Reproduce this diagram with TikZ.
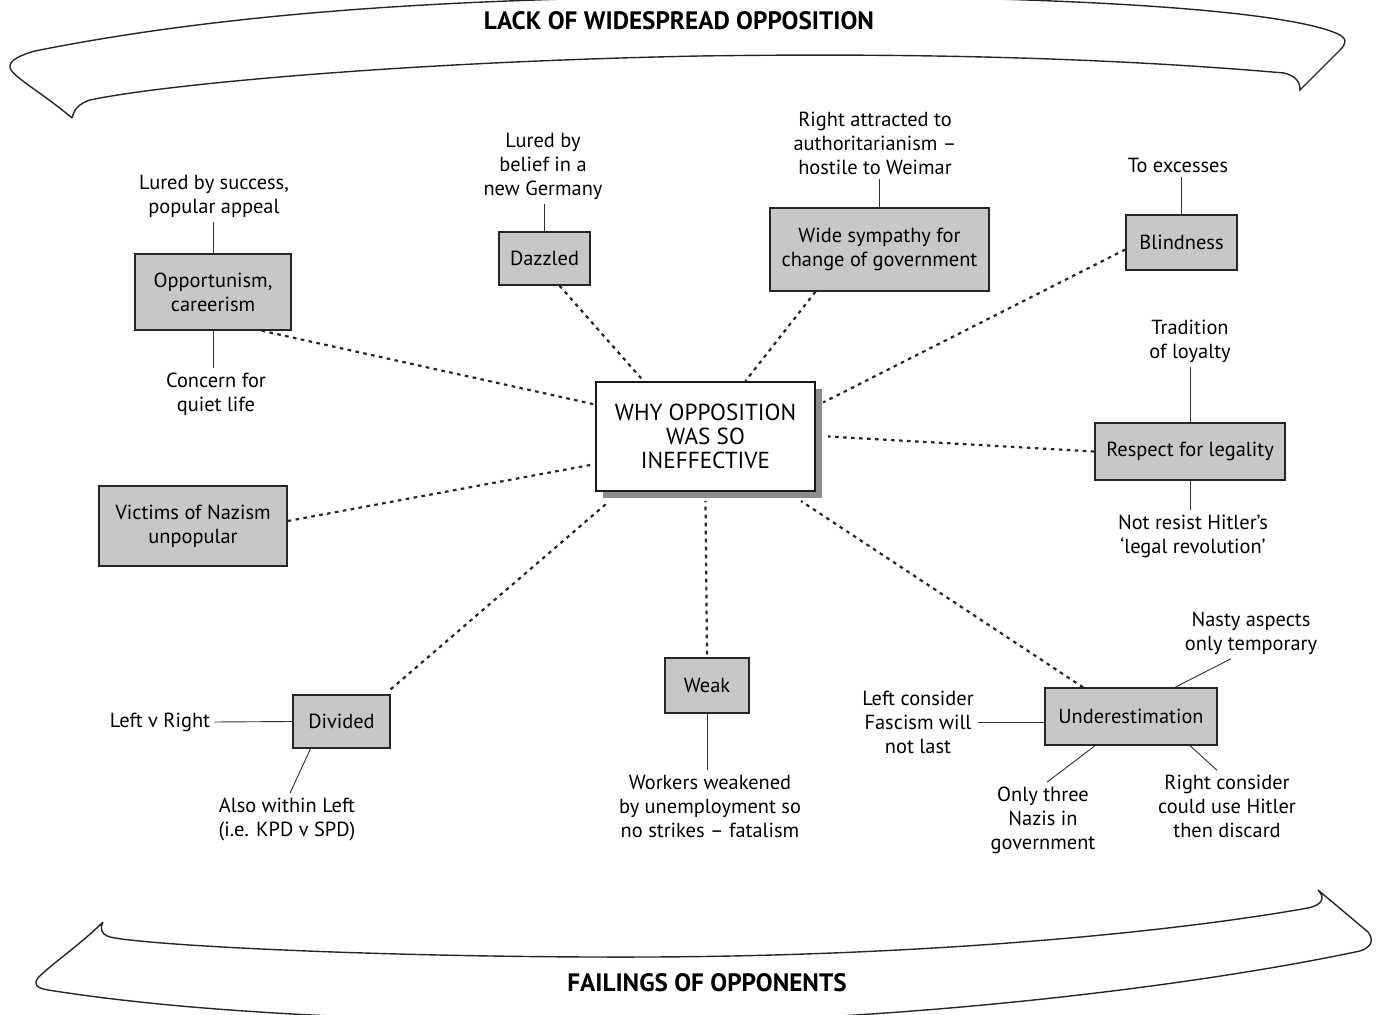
\documentclass[tikz,border=0pt]{standalone}
\usepackage{fontspec}
\setmainfont{PT Sans}
\usetikzlibrary{shadows}
\begin{document}
\begin{tikzpicture}[x=0.5pt,y=-0.5pt,
  box/.style={draw=black!85, line width=0.7pt, fill=black!22, align=center, inner sep=2pt, font=\fontsize{10.2}{12}\selectfont},
  lbl/.style={align=center, inner sep=2pt, font=\fontsize{10.2}{12}\selectfont},
  dotline/.style={line width=1.1pt, dash pattern=on 1.8pt off 2.2pt, black!85},
  stem/.style={line width=0.45pt, black!80},
  banner/.style={line width=0.7pt, black!85},
  title/.style={font=\bfseries\fontsize{12.6}{14}\selectfont, inner sep=0pt}]
\useasboundingbox (0,0) rectangle (1376,1015);
\begin{scope}
\clip (0,0) rectangle (1376,1015);
% top banner
\draw[banner] (72,118) .. controls (45,95) and (18,80) .. (11,70)
  .. controls (7,63) and (14,57) .. (35,51)
  .. controls (250,8) and (500,-4) .. (800,-4)
  .. controls (1100,-3) and (1290,12) .. (1338,34)
  .. controls (1348,39) and (1346,44) .. (1340,50) -- (1300,90)
  .. controls (1300,82) and (1296,76) .. (1284,73)
  .. controls (1100,57) and (900,53) .. (700,56)
  .. controls (400,62) and (160,85) .. (90,100)
  .. controls (78,104) and (74,110) .. (72,118);
% bottom banner
\draw[banner] (103,922) .. controls (80,945) and (50,965) .. (38,978)
  .. controls (33,985) and (37,988) .. (48,990)
  .. controls (150,1006) and (300,1020) .. (600,1023)
  .. controls (900,1024) and (1200,985) .. (1360,951)
  .. controls (1372,947) and (1374,940) .. (1368,932) -- (1318,890)
  .. controls (1326,898) and (1322,905) .. (1308,908)
  .. controls (1150,936) and (900,956) .. (650,957)
  .. controls (400,958) and (150,946) .. (110,937)
  .. controls (100,934) and (100,927) .. (103,922);
\end{scope}
\node[title] (ttop) at (679,21) {LACK OF WIDESPREAD OPPOSITION};
\node[title] (tbot) at (707,983) {FAILINGS OF OPPONENTS};
% centre
\node[draw=black!90, line width=1pt, fill=white, align=center, minimum width=109.5pt, minimum height=54.5pt,
  font=\fontsize{11.6}{12}\selectfont,
  drop shadow={shadow xshift=3.5pt, shadow yshift=-3.5pt, fill=black!45, opacity=1}]
  (ctr) at (705.5,436.5) {WHY OPPOSITION\\WAS SO\\INEFFECTIVE};
% boxes
\node[box, minimum width=78pt, minimum height=38pt] (opp) at (213,292) {Opportunism,\\careerism};
\node[box, minimum width=45.5pt, minimum height=26.5pt] (daz) at (544.5,258.5) {Dazzled};
\node[box, minimum width=109.5pt, minimum height=41.5pt] (wide) at (879.5,249.5) {Wide sympathy for\\change of government};
\node[box, minimum width=55.5pt, minimum height=27.5pt] (blind) at (1181.5,242.5) {Blindness};
\node[box, minimum width=95pt, minimum height=28.5pt] (resp) at (1190,451.5) {Respect for legality};
\node[box, minimum width=94pt, minimum height=40pt] (vict) at (193,526) {Victims of Nazism\\unpopular};
\node[box, minimum width=48.5pt, minimum height=26.5pt] (div) at (341.5,721.5) {Divided};
\node[box, minimum width=42pt, minimum height=27.5pt] (weak) at (707,685.5) {Weak};
\node[box, minimum width=86pt, minimum height=28.5pt] (under) at (1131,716.5) {Underestimation};
% labels
\node[lbl] (lsucc) at (214,196) {Lured by success,\\popular appeal};
\node[lbl] (lquiet) at (216,394) {Concern for\\quiet life};
\node[lbl] (lbelief) at (543,166) {Lured by\\belief in a\\new Germany};
\node[lbl] (lright) at (875,143) {Right attracted to\\authoritarianism –\\hostile to Weimar};
\node[lbl] (lexc) at (1178,165) {To excesses};
\node[lbl] (ltrad) at (1190,341) {Tradition\\of loyalty};
\node[lbl] (lnot) at (1193,536) {Not resist Hitler’s\\‘legal revolution’};
\node[lbl] (lnasty) at (1251,633) {Nasty aspects\\only temporary};
\node[lbl] (lleftc) at (918,722) {Left consider\\Fascism will\\not last};
\node[lbl] (lonly) at (1043,820) {Only three\\Nazis in\\government};
\node[lbl] (lrightc) at (1227,806) {Right consider\\could use Hitler\\then discard};
\node[lbl] (lwork) at (710,806) {Workers weakened\\by unemployment so\\no strikes – fatalism};
\node[lbl] (llr) at (160,722) {Left v Right};
\node[lbl] (lalso) at (287,819) {Also within Left\\(i.e. KPD v SPD)};
% stems
\draw[stem] (opp.north) -- (opp.north |- lsucc.south);
\draw[stem] (opp.south) -- (opp.south |- lquiet.north);
\draw[stem] (daz.north) -- (daz.north |- lbelief.south);
\draw[stem] (wide.north) -- (wide.north |- lright.south);
\draw[stem] (blind.north) -- (blind.north |- lexc.south);
\draw[stem] (resp.north) -- (resp.north |- ltrad.south);
\draw[stem] (resp.south) -- (resp.south |- lnot.north);
\draw[stem] (weak.south) -- (weak.south |- lwork.north);
\draw[stem] (llr.east) -- (div.west);
\draw[stem] ([xshift=-15.5pt]div.south) -- ([xshift=1.5pt]lalso.north);
\draw[stem] (lleftc.east) -- (lleftc.east -| under.west);
\draw[stem] ([xshift=22pt]under.north) -- ([xshift=-10pt]lnasty.south);
\draw[stem] ([xshift=-18pt]under.south) -- ([xshift=2pt]lonly.north);
\draw[stem] ([xshift=29.5pt]under.south) -- ([xshift=-5pt]lrightc.north);
% dotted connectors
\draw[dotline] ([xshift=-15pt]opp.south east) -- ([yshift=16pt]ctr.west);
\draw[dotline] ([xshift=7.5pt]daz.south) -- ([xshift=-31pt]ctr.north);
\draw[dotline] ([xshift=-32pt]wide.south) -- ([xshift=20pt]ctr.north);
\draw[dotline] ([yshift=-3.5pt]blind.west) -- ([xshift=3.5pt,yshift=17pt]ctr.east);
\draw[dotline] (resp.west) -- ([xshift=6pt]ctr.east);
\draw[dotline] ([yshift=2.5pt]vict.east) -- ([xshift=-1pt,yshift=-14pt]ctr.west);
\draw[dotline] ([yshift=2.5pt]div.north east) -- ([xshift=5.5pt,yshift=-6pt]ctr.south west);
\draw[dotline] ([yshift=1.5pt]weak.north) -- ([yshift=-4.5pt]ctr.south);
\draw[dotline] ([xshift=-24pt]under.north) -- ([xshift=-7.5pt,yshift=-4.5pt]ctr.south east);
\end{tikzpicture}
\end{document}
